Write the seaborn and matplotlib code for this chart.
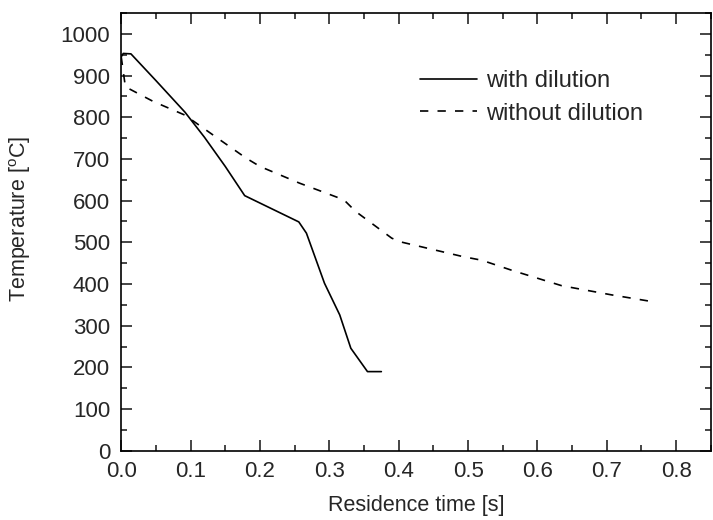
import pandas as pd
import seaborn as sns
import matplotlib.pyplot as plt

# with dilution (solid)
t_dil = [0.0, 0.003, 0.014, 0.05, 0.092, 0.12, 0.15, 0.178, 0.256, 0.267, 0.293, 0.315, 0.331, 0.355, 0.375]
T_dil = [945, 953, 952, 888, 812, 752, 682, 612, 549, 522, 402, 326, 246, 190, 190]

# without dilution (dashed)
t_nodil = [0.0, 0.006, 0.046, 0.092, 0.137, 0.18, 0.2, 0.257, 0.321, 0.338, 0.39, 0.403, 0.492, 0.52, 0.563, 0.635, 0.707, 0.765]
T_nodil = [945, 873, 838, 805, 752, 702, 682, 642, 602, 574, 510, 501, 466, 457, 433, 396, 374, 358]

series_names = ["with dilution", "without dilution"]
x_ticks = [0.0, 0.1, 0.2, 0.3, 0.4, 0.5, 0.6, 0.7, 0.8]
y_ticks = [0, 100, 200, 300, 400, 500, 600, 700, 800, 900, 1000]

df = pd.concat([
    pd.DataFrame({"time": t_dil, "temp": T_dil, "series": series_names[0]}),
    pd.DataFrame({"time": t_nodil, "temp": T_nodil, "series": series_names[1]}),
])

sns.set_theme(style="ticks")
plt.rcParams["font.family"] = ["Liberation Sans", "DejaVu Sans"]
plt.rcParams["mathtext.default"] = "regular"

fig = plt.figure(figsize=(7.13, 5.2), dpi=100)
ax = fig.add_axes([0.170, 0.133, 0.827, 0.842])

sns.lineplot(data=df, x="time", y="temp", style="series", color="black",
             dashes={series_names[0]: "", series_names[1]: (5, 5.5)},
             linewidth=1.2, sort=False, estimator=None, ax=ax)

ax.set_xlim(0, 0.85)
ax.set_ylim(0, 1050)
ax.set_xticks(x_ticks)
ax.set_xticklabels([f"{v:.1f}" for v in x_ticks])
ax.set_yticks(y_ticks)
ax.set_xticks([0.05 + 0.1 * i for i in range(9)], minor=True)
ax.set_yticks([50 + 100 * i for i in range(11)], minor=True)

ax.tick_params(which="both", direction="in", top=True, right=True, width=1.2, labelsize=16)
ax.tick_params(axis="x", pad=7)
ax.tick_params(axis="y", pad=8)
ax.tick_params(which="major", length=8)
ax.tick_params(which="minor", length=4.5)
for s in ax.spines.values():
    s.set_linewidth(1.2)
    s.set_color("black")

ax.set_xlabel("Residence time [s]", fontsize=15.5, labelpad=10)
ax.set_ylabel("Temperature [$^{o}$C]", fontsize=15.5)
ax.yaxis.set_label_coords(-0.150, 0.53)

ax.legend(loc="upper left", bbox_to_anchor=(0.507, 0.87), frameon=False,
          borderpad=0, borderaxespad=0, fontsize=17, handlelength=2.4,
          handletextpad=0.4, labelspacing=0.45)

plt.savefig("out.png", dpi=100)
